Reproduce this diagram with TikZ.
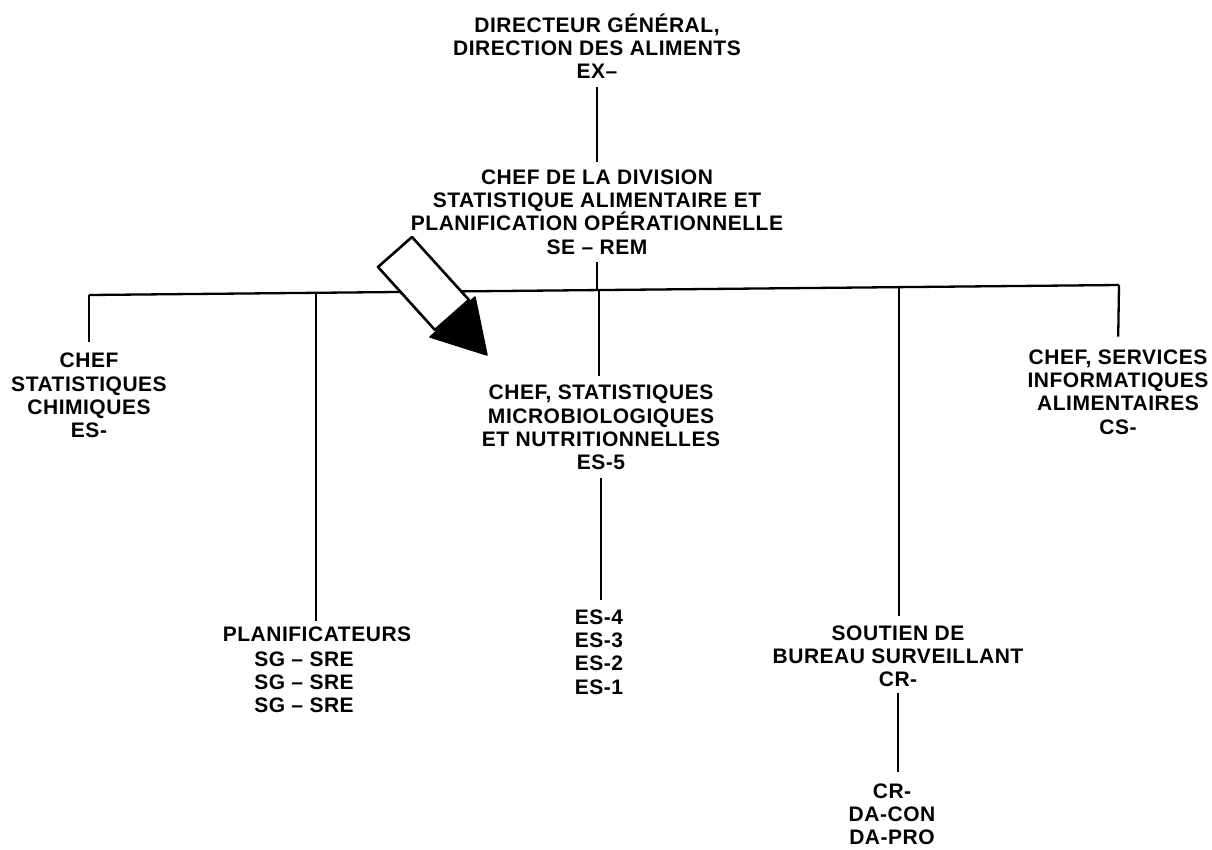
\documentclass[tikz,border=0pt]{standalone}
\usepackage{fontspec}
\newfontfamily\orgfont{Liberation Sans}[LetterSpace=2.5]
\begin{document}
\begin{tikzpicture}[x=1pt,y=-1pt,
  lbl/.style={font=\orgfont\bfseries\fontsize{21}{23.2}\selectfont, align=center, inner sep=0pt},
  conn/.style={line width=2.3pt},
  shaftstyle/.style={draw=black, fill=white, line width=2.6pt, line join=round},
  headstyle/.style={draw=black, fill=black, line width=1.5pt, line join=round}
]
\useasboundingbox[fill=white] (0,0) rectangle (1212,849);

% nodes
\node[lbl] (dg) at (597,46) {DIRECTEUR GÉNÉRAL,\\DIRECTION DES ALIMENTS\\EX–};
\node[lbl] (div) at (597,212) {CHEF DE LA DIVISION\\STATISTIQUE ALIMENTAIRE ET\\PLANIFICATION OPÉRATIONNELLE\\SE – REM};
\node[lbl] (chim) at (89,395.5) {CHEF\\STATISTIQUES\\CHIMIQUES\\ES-};
\node[lbl] (planif) at (317,634.5) {PLANIFICATEURS};
\node[lbl] (sg) at (304,682) {SG – SRE\\SG – SRE\\SG – SRE};
\node[lbl] (micro) at (601,427.5) {CHEF, STATISTIQUES\\MICROBIOLOGIQUES\\ET NUTRITIONNELLES\\ES-5};
\node[lbl] (es) at (599,652) {ES-4\\ES-3\\ES-2\\ES-1};
\node[lbl] (sout) at (898,656) {SOUTIEN DE\\BUREAU SURVEILLANT\\CR-};
\node[lbl] (cr) at (892,814) {CR-\\DA-CON\\DA-PRO};
\node[lbl] (info) at (1118,392) {CHEF, SERVICES\\INFORMATIQUES\\ALIMENTAIRES\\CS-};

% bus coordinates
\coordinate (bl) at (89,295);
\coordinate (jp) at (316,292.8);
\coordinate (jm) at (599,290.1);
\coordinate (js) at (899,287.1);
\coordinate (br) at (1119,285);

% connectors
\draw[conn, shorten <=8pt, shorten >=8pt] (dg.south) -- (div.north);
\draw[conn, shorten <=8pt] (div.south) -- (div.south |- jm);
\draw[conn] (bl) -- (br);
\draw[conn, shorten >=11pt] (bl) -- (chim.north);
\draw[conn, shorten >=6pt] (jp) -- (jp |- planif.north);
\draw[conn, shorten >=9pt] (jm) -- (jm |- micro.north);
\draw[conn, shorten >=9pt] (js) -- (js |- sout.north);
\draw[conn, shorten >=13pt] (br) -- (info.north);
\draw[conn, shorten <=8pt, shorten >=10pt] (micro.south) -- (micro.south |- es.north);
\draw[conn, shorten <=6pt, shorten >=11pt] (sout.south) -- (sout.south |- cr.north);

% big hollow arrow with black head
\draw[shaftstyle] (378,267) -- (412,237) -- (469,300) -- (435,330) -- cycle;
\draw[headstyle] (430,337) -- (475,297) -- (487,355) -- cycle;
\end{tikzpicture}
\end{document}
